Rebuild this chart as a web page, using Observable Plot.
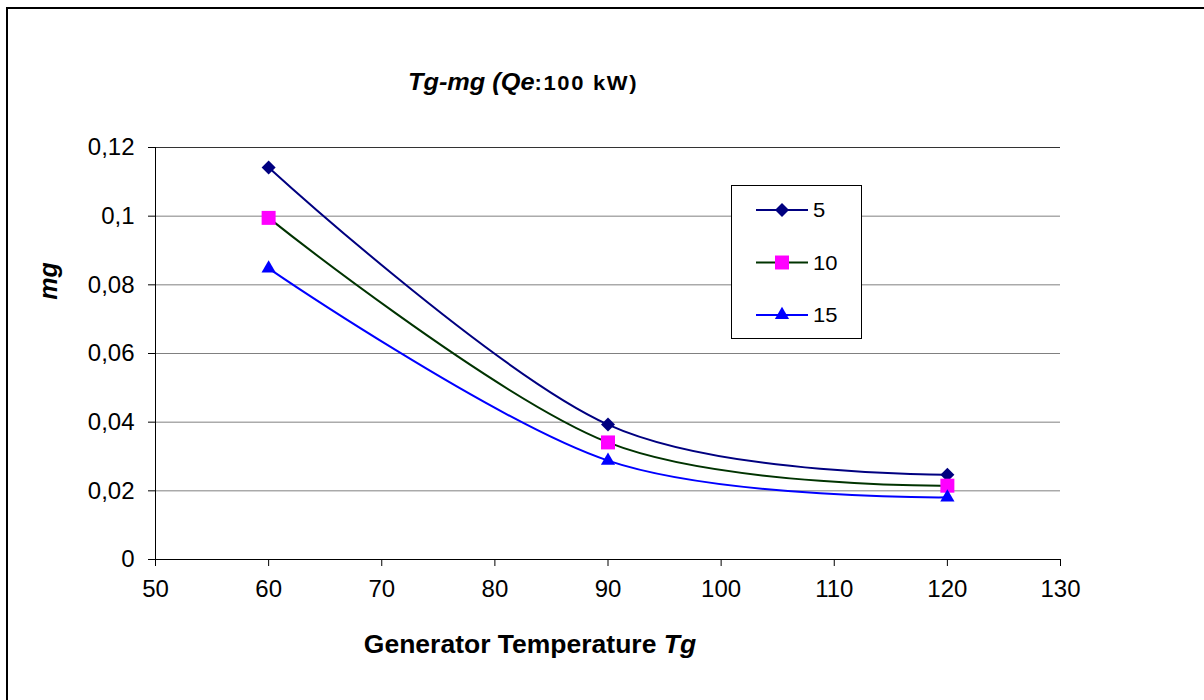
<!DOCTYPE html>
<html>
<head>
<meta charset="utf-8">
<script src="https://cdn.jsdelivr.net/npm/d3@7"></script>
<script src="https://cdn.jsdelivr.net/npm/@observablehq/plot@0.6"></script>
<style>
  html, body { margin: 0; padding: 0; background: #fff; }
  body { font-family: "Liberation Sans", Arial, sans-serif; color: #000; }
  #wrap { position: relative; width: 1204px; height: 700px; overflow: hidden; }
  #frame { position: absolute; left: 6px; top: 7px; width: 1300px; height: 800px;
           border-top: 2px solid #000; border-left: 2px solid #000; box-sizing: border-box; }
  #chart { position: absolute; left: 0; top: 0; }
  .title { position: absolute; left: 408px; top: 71px; font-weight: bold; white-space: nowrap;
           line-height: 1; transform: scaleX(1.1); transform-origin: left center; }
  .xlabel { position: absolute; left: 530px; top: 632px; font-weight: bold; font-size: 25px; line-height: 1;
            white-space: nowrap; transform: translateX(-50%) scaleX(1.06); }
  .ylabel { position: absolute; left: 48px; top: 281px; transform: translate(-50%, -50%) rotate(-90deg);
            font-weight: bold; font-style: italic; font-size: 25px; line-height: 1; white-space: nowrap; }
  #legend { position: absolute; left: 731px; top: 185px; }
</style>
</head>
<body>
<div id="wrap">
  <div id="frame"></div>
  <div id="chart"></div>
  <div class="title"><span style="font-style:italic;font-size:23px">Tg-mg (Qe</span><span style="font-size:20px;letter-spacing:1.5px">:100 kW)</span></div>
  <div class="xlabel">Generator Temperature <i>Tg</i></div>
  <div class="ylabel">mg</div>
  <div id="legend"></div>
</div>
<script>
// ---- data ----
const temps = [60, 90, 120];
const seriesNames = ["5", "10", "15"];
const mg5 = [0.1142, 0.0393, 0.0247];
const mg10 = [0.0995, 0.0341, 0.0215];
const mg15 = [0.0848, 0.0288, 0.0181];
const xTicks = [50, 60, 70, 80, 90, 100, 110, 120, 130];
const yTicks = [0, 0.02, 0.04, 0.06, 0.08, 0.1, 0.12];

// ---- styles ----
const lineColors = {"5": "#000080", "10": "#003300", "15": "#0000FF"};
const markColors = {"5": "#000080", "10": "#FF00FF", "15": "#0000FF"};
const symbols = {"5": "diamond2", "10": "square2", "15": "triangle2"};
const markR = {"5": 6.3, "10": 8.9, "15": 6.8};

const valuesBySeries = {"5": mg5, "10": mg10, "15": mg15};
const rows = seriesNames.flatMap(s => temps.map((t, i) => ({series: s, t, mg: valuesBySeries[s][i]})));

const fmt = d => String(d).replace(".", ",");

const marks = [
  Plot.gridY(yTicks.filter(d => d > 0 && d < 0.12), {stroke: "#808080", strokeOpacity: 1, strokeWidth: 1}),
  Plot.gridY(yTicks.filter(d => d === 0.12), {stroke: "#333333", strokeOpacity: 1, strokeWidth: 1}),
  Plot.axisY({ticks: yTicks, tickFormat: fmt, tickSize: 7, tickPadding: 14, fontSize: 24, stroke: "#000"}),
  Plot.axisX({ticks: xTicks, tickSize: 7, tickPadding: 13, fontSize: 24, stroke: "#000"}),
  Plot.ruleX([50], {stroke: "#000", strokeWidth: 1}),
  Plot.ruleY([0], {stroke: "#000", strokeWidth: 1})
];
for (const s of seriesNames) {
  const data = rows.filter(r => r.series === s);
  marks.push(Plot.line(data, {x: "t", y: "mg", stroke: lineColors[s], strokeWidth: 2, curve: "cardinal", tension: 0}));
}
for (const s of seriesNames) {
  const data = rows.filter(r => r.series === s);
  marks.push(Plot.dot(data, {x: "t", y: "mg", symbol: () => symbols[s], fill: markColors[s], stroke: "none", r: markR[s]}));
}

const chart = Plot.plot({
  width: 1204,
  height: 700,
  marginLeft: 155,
  marginRight: 144,
  marginTop: 147,
  marginBottom: 141,
  style: {fontFamily: "'Liberation Sans', Arial, sans-serif", fontSize: "24px", color: "#000", background: "transparent"},
  x: {domain: [50, 130], label: null},
  y: {domain: [0, 0.12], label: null},
  symbol: {type: "identity"},
  marks
});
document.getElementById("chart").appendChild(chart);

// ---- legend (inline svg, from the series arrays) ----
const lg = d3.select("#legend").append("svg").attr("width", 132).attr("height", 155);
lg.append("rect").attr("x", 0.5).attr("y", 0.5).attr("width", 130).attr("height", 153)
  .attr("fill", "#fff").attr("stroke", "#000").attr("stroke-width", 1);
const symPaths = {"5": d3.symbolDiamond2, "10": d3.symbolSquare2, "15": d3.symbolTriangle2};
seriesNames.forEach((s, i) => {
  const cy = 25 + i * 52.5;
  const g = lg.append("g");
  g.append("line").attr("x1", 25).attr("x2", 77).attr("y1", cy).attr("y2", cy)
    .attr("stroke", lineColors[s]).attr("stroke-width", 2);
  const sz = Math.PI * markR[s] * markR[s];
  g.append("path").attr("transform", `translate(51,${cy})`)
    .attr("d", d3.symbol(symPaths[s], sz)()).attr("fill", markColors[s]);
  g.append("text").attr("transform", `translate(82,${cy}) scale(1.1,1)`).attr("dy", "0.35em")
    .attr("font-family", "'Liberation Sans', Arial, sans-serif").attr("font-size", 20).text(s);
});
</script>
</body>
</html>
